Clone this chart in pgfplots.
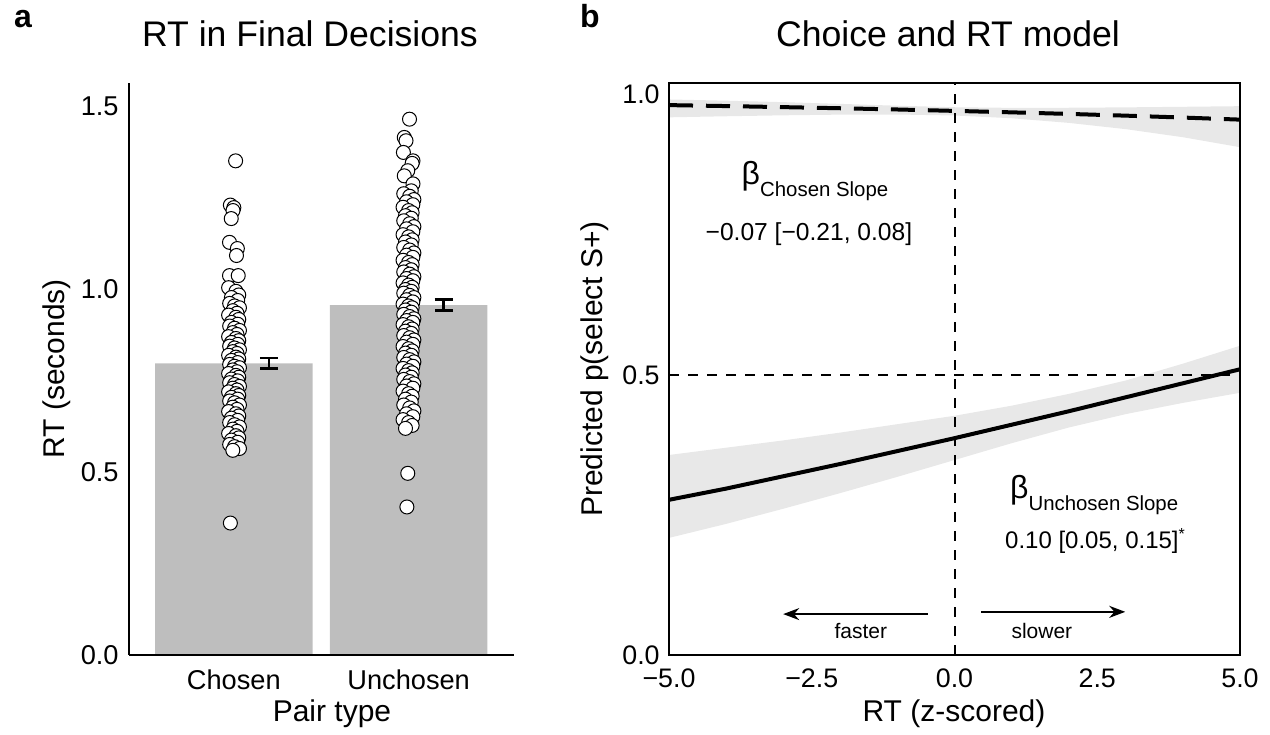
\documentclass[border=0pt]{standalone}
\usepackage{fontspec}
\setmainfont{Liberation Sans}
\usepackage{pgfplots}
\pgfplotsset{compat=1.18}
\usepgfplotslibrary{fillbetween}
\usetikzlibrary{arrows.meta}
\definecolor{barfill}{HTML}{BEBEBE}
\definecolor{ribbon}{HTML}{E8E8E8}

\begin{document}
\begin{tikzpicture}[x=1pt,y=1pt]
\path (0,0) rectangle (635,366);

% ---------------- panel a ----------------
\begin{axis}[
    at={(64.5pt,38.5pt)}, anchor=south west, scale only axis,
    width=192.25pt, height=286pt,
    xmin=0.4, xmax=2.6, ymin=0, ymax=1.565,
    axis lines*=left,
    axis line style={line width=1.3pt},
    axis on top,
    xtick={1,2}, xticklabels={Chosen,Unchosen},
    ytick={0,0.5,1,1.5}, yticklabels={0.0,0.5,1.0,1.5},
    major tick length=0pt,
    tick label style={font=\fontsize{13.6}{16}\selectfont, inner sep=0pt},
    xticklabel shift=7pt, yticklabel shift=5pt,
    clip=false,
]
  % bars (means)
  \addplot[ybar, bar width=0.9, bar shift=0pt, fill=barfill, draw=none]
    coordinates {(1,0.798) (2,0.957)};

  % chosen: single subjects
  \addplot[only marks, mark=*, mark size=3.5pt,
           mark options={fill=white, draw=black, line width=0.5pt}]
    coordinates {
    (1.010,1.352) (0.980,1.231) (1.000,1.224) (0.995,1.216) (0.985,1.194)
    (0.975,1.129) (1.020,1.112) (1.015,1.093) (0.975,1.038) (1.025,1.038)
    (0.970,1.005) (1.012,0.995) (1.028,0.985) (0.986,0.978) (1.022,0.970)
    (0.976,0.962) (1.004,0.955) (1.032,0.950) (0.994,0.942) (1.018,0.935)
    (0.970,0.930) (1.012,0.924) (1.028,0.918) (0.986,0.910) (1.022,0.905)
    (0.976,0.900) (1.004,0.894) (1.032,0.888) (0.994,0.882) (1.018,0.877)
    (0.970,0.871) (1.012,0.866) (1.028,0.860) (0.986,0.855) (1.022,0.850)
    (0.976,0.845) (1.004,0.840) (1.032,0.835) (0.994,0.830) (1.018,0.825)
    (0.970,0.820) (1.012,0.815) (1.028,0.810) (0.986,0.806) (1.022,0.800)
    (0.976,0.795) (1.004,0.790) (1.032,0.786) (0.994,0.780) (1.018,0.775)
    (0.970,0.770) (1.012,0.765) (1.028,0.760) (0.986,0.755) (1.022,0.750)
    (0.976,0.745) (1.004,0.740) (1.032,0.735) (0.994,0.730) (1.018,0.725)
    (0.970,0.720) (1.012,0.715) (1.028,0.710) (0.986,0.705) (1.022,0.700)
    (0.976,0.695) (1.004,0.690) (1.032,0.684) (0.994,0.678) (1.018,0.672)
    (0.970,0.666) (1.012,0.660) (1.028,0.654) (0.986,0.648) (1.022,0.642)
    (0.976,0.636) (1.004,0.630) (1.032,0.624) (0.994,0.618) (1.018,0.612)
    (0.970,0.606) (1.012,0.600) (1.028,0.594) (0.986,0.588) (1.022,0.582)
    (0.976,0.576) (1.004,0.570) (1.032,0.565) (0.994,0.560)
    (0.980,0.361)
    };

  % unchosen: single subjects
  \addplot[only marks, mark=*, mark size=3.5pt,
           mark options={fill=white, draw=black, line width=0.5pt}]
    coordinates {
    (2.005,1.466) (1.975,1.416) (1.985,1.407) (1.970,1.375) (2.025,1.352)
    (2.020,1.345) (1.995,1.325) (1.975,1.311) (2.025,1.289)
    (2.015,1.270) (1.972,1.262) (2.006,1.255) (2.030,1.246) (1.988,1.240)
    (2.024,1.232) (1.968,1.225) (2.000,1.216) (2.020,1.210) (1.982,1.202)
    (2.015,1.195) (1.972,1.188) (2.006,1.180) (2.030,1.172) (1.988,1.166)
    (2.024,1.158) (1.968,1.150) (2.000,1.144) (2.020,1.136) (1.982,1.130)
    (2.015,1.122) (1.972,1.115) (2.006,1.108) (2.030,1.100) (1.988,1.094)
    (2.024,1.088) (1.968,1.080) (2.000,1.074) (2.020,1.068) (1.982,1.060)
    (2.015,1.054) (1.972,1.048) (2.006,1.042) (2.030,1.035) (1.988,1.030)
    (2.024,1.024) (1.968,1.018) (2.000,1.012) (2.020,1.006) (1.982,1.000)
    (2.015,0.995) (1.972,0.990) (2.006,0.984) (2.030,0.978) (1.988,0.972)
    (2.024,0.966) (1.968,0.960) (2.000,0.955) (2.020,0.950) (1.982,0.944)
    (2.015,0.938) (1.972,0.932) (2.006,0.926) (2.030,0.920) (1.988,0.915)
    (2.024,0.910) (1.968,0.904) (2.000,0.898) (2.020,0.892) (1.982,0.886)
    (2.015,0.880) (1.972,0.874) (2.006,0.868) (2.030,0.862) (1.988,0.856)
    (2.024,0.850) (1.968,0.844) (2.000,0.838) (2.020,0.832) (1.982,0.826)
    (2.015,0.820) (1.972,0.814) (2.006,0.808) (2.030,0.802) (1.988,0.796)
    (2.024,0.790) (1.968,0.784) (2.000,0.778) (2.020,0.772) (1.982,0.766)
    (2.015,0.760) (1.972,0.754) (2.006,0.748) (2.030,0.742) (1.988,0.736)
    (2.024,0.730) (1.968,0.722) (2.000,0.715) (2.020,0.708) (1.982,0.700)
    (2.015,0.692) (1.972,0.684) (2.006,0.676) (2.030,0.668) (1.988,0.660)
    (2.024,0.652) (1.968,0.644) (2.000,0.636) (2.020,0.628) (1.982,0.620)
    (1.995,0.497) (1.990,0.405)
    };

  % group standard errors
  \addplot[draw=none, mark=none,
           error bars/.cd, y dir=both, y explicit,
           error bar style={draw=black, line width=1.2pt},
           error mark options={draw=black, rotate=90, mark size=4.5pt, line width=1.2pt}]
    coordinates {(1.2,0.798) +- (0,0.014) (2.2,0.958) +- (0,0.015)};
\end{axis}

% ---------------- panel b ----------------
\begin{axis}[
    at={(334.5pt,38.5pt)}, anchor=south west, scale only axis,
    width=285.5pt, height=286pt,
    xmin=-5, xmax=5, ymin=0, ymax=1.021,
    axis line style={line width=1.3pt},
    axis on top,
    xtick={-5,-2.5,0,2.5,5}, xticklabels={−5.0,−2.5,0.0,2.5,5.0},
    ytick={0,0.5,1}, yticklabels={0.0,0.5,1.0},
    major tick length=0pt,
    tick label style={font=\fontsize{13.4}{16}\selectfont, inner sep=0pt},
    xticklabel shift=6.5pt, yticklabel shift=4.5pt,
]
  % confidence ribbons
  \addplot[name path=cu, draw=none] coordinates {
    (-5,0.9916) (-4,0.9894) (-3,0.9868) (-2,0.9837) (-1,0.9804) (0,0.9777)
    (1,0.9766) (2,0.9768) (3,0.9775) (4,0.9785) (5,0.9796)};
  \addplot[name path=cl, draw=none] coordinates {
    (-5,0.9597) (-4,0.9616) (-3,0.9633) (-2,0.9645) (-1,0.9647) (0,0.9630)
    (1,0.9581) (2,0.9498) (3,0.9386) (4,0.9242) (5,0.9064)};
  \addplot[ribbon, draw=none] fill between[of=cu and cl];

  \addplot[name path=uu, draw=none] coordinates {
    (-5,0.357) (-4,0.370) (-3,0.383) (-2,0.397) (-1,0.412) (0,0.427)
    (1,0.445) (2,0.466) (3,0.490) (4,0.520) (5,0.552)};
  \addplot[name path=ul, draw=none] coordinates {
    (-5,0.209) (-4,0.234) (-3,0.261) (-2,0.289) (-1,0.318) (0,0.348)
    (1,0.378) (2,0.406) (3,0.430) (4,0.450) (5,0.468)};
  \addplot[ribbon, draw=none] fill between[of=uu and ul];

  % reference lines
  \draw[black, line width=1pt, dash pattern=on 5pt off 4.5pt]
    (axis cs:0,0) -- (axis cs:0,1.021);
  \draw[black, line width=1pt, dash pattern=on 5pt off 4.5pt]
    (axis cs:-5,0.5) -- (axis cs:5,0.5);

  % fitted curves
  \addplot[black, line width=2pt, dash pattern=on 12pt off 6.5pt] coordinates {
    (-5,0.9815) (-4,0.9798) (-3,0.9779) (-2,0.9759) (-1,0.9737) (0,0.9712)
    (1,0.9686) (2,0.9658) (3,0.9627) (4,0.9593) (5,0.9556)};
  \addplot[black, line width=2pt] coordinates {
    (-5,0.277) (-4,0.297) (-3,0.319) (-2,0.341) (-1,0.364) (0,0.387)
    (1,0.411) (2,0.435) (3,0.460) (4,0.485) (5,0.510)};

  % annotations
  \node[anchor=base west, font=\fontsize{16}{18}\selectfont] at (axis cs:-3.85,0.840)
    {β\raisebox{-6pt}{\fontsize{10.2}{12}\selectfont Chosen Slope}};
  \node[anchor=base, font=\fontsize{12.3}{14}\selectfont] at (axis cs:-2.55,0.739)
    {−0.07 [−0.21, 0.08]};
  \node[anchor=base west, font=\fontsize{16}{18}\selectfont] at (axis cs:0.85,0.279)
    {β\raisebox{-6pt}{\fontsize{10.2}{12}\selectfont Unchosen Slope}};
  \node[anchor=base, font=\fontsize{12}{14}\selectfont] at (axis cs:2.47,0.190)
    {0.10 [0.05, 0.15]\textsuperscript{*}};

  \draw[-{Stealth[length=8pt, width=6pt]}, line width=1pt]
    (axis cs:-0.47,0.073) -- (axis cs:-3.0,0.073);
  \draw[-{Stealth[length=8pt, width=6pt]}, line width=1pt]
    (axis cs:0.47,0.077) -- (axis cs:2.99,0.077);
  \node[anchor=base, font=\fontsize{10.5}{12}\selectfont] at (axis cs:-1.64,0.030) {faster};
  \node[anchor=base, font=\fontsize{10.5}{12}\selectfont] at (axis cs:1.53,0.030) {slower};
\end{axis}

% titles, panel letters and axis labels
\node[anchor=base, font=\fontsize{17.8}{21}\selectfont] at (155,342.5) {RT in Final Decisions};
\node[anchor=base, font=\fontsize{17.8}{21}\selectfont] at (474,342.5) {Choice and RT model};
\node[anchor=base, inner sep=0pt, font=\bfseries\fontsize{16}{19}\selectfont] at (11.5,352) {a};
\node[anchor=base, inner sep=0pt, font=\bfseries\fontsize{16}{19}\selectfont] at (295,352) {b};
\node[anchor=base, font=\fontsize{15}{18}\selectfont] at (166,5) {Pair type};
\node[anchor=base, font=\fontsize{15}{18}\selectfont] at (477,5) {RT (z-scored)};
\node[rotate=90, font=\fontsize{15}{18}\selectfont] at (28.5,181.5) {RT (seconds)};
\node[rotate=90, font=\fontsize{15}{18}\selectfont] at (297.5,181.5) {Predicted p(select S+)};
\end{tikzpicture}
\end{document}
